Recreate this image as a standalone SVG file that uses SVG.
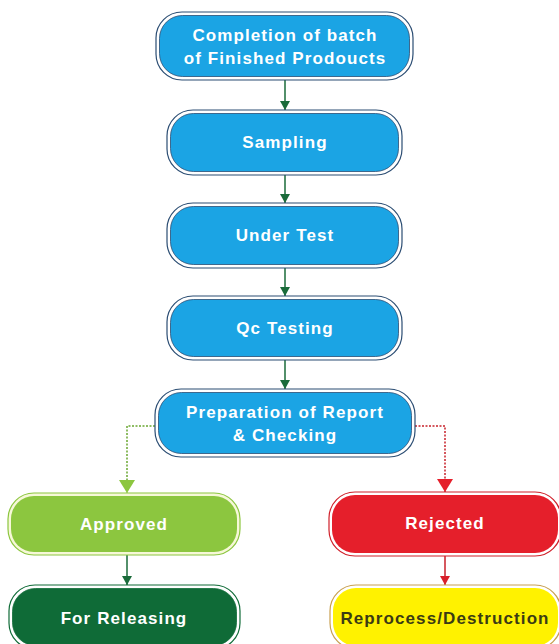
<svg xmlns="http://www.w3.org/2000/svg" width="559" height="644" viewBox="0 0 559 644">
<style>
  text { font-family: "Liberation Sans", Arial, sans-serif; font-weight: bold; font-size: 17px; letter-spacing: 1.1px; text-anchor: middle; dominant-baseline: central; fill: #ffffff; }
  .outer { fill: #ffffff; stroke-width: 1.2; }
  .blue .outer { stroke: #2b4d73; }
  .blue .inner { fill: #1ba4e4; stroke: #2b4d73; stroke-width: 0.8; }
  .lg .outer { stroke: #8cc63f; fill: #f6f8d8; }
  .lg .inner { fill: #8cc63f; }
  .dg .outer { stroke: #0f6b37; }
  .dg .inner { fill: #0f6b37; stroke: #0f6b37; stroke-width: 0.8; }
  .rd .outer { stroke: #d0202a; }
  .rd .inner { fill: #e51f2b; }
  .yl .outer { stroke: #c8a050; }
  .yl .inner { fill: #fff200; }
  .yl text { fill: #3b3b14; }
  .solid { fill: none; stroke: #1a6b3a; stroke-width: 1.5; }
  .solidr { fill: none; stroke: #c8202a; stroke-width: 1.5; }
  .dotg { fill: none; stroke: #6aa630; stroke-width: 1.5; stroke-dasharray: 2 1.5; }
  .dotr { fill: none; stroke: #c8202a; stroke-width: 1.5; stroke-dasharray: 2 1.5; }
</style>
<defs>
  <marker id="ag" markerUnits="userSpaceOnUse" markerWidth="9" markerHeight="10" refX="9" refY="5" orient="auto" viewBox="0 0 9 10">
    <path d="M0,0 L9,5 L0,10 Z" fill="#1a6b3a"/>
  </marker>
  <marker id="ar" markerUnits="userSpaceOnUse" markerWidth="9" markerHeight="10" refX="9" refY="5" orient="auto" viewBox="0 0 9 10">
    <path d="M0,0 L9,5 L0,10 Z" fill="#d8202a"/>
  </marker>
  <marker id="alg" markerUnits="userSpaceOnUse" markerWidth="13" markerHeight="16" refX="13" refY="8" orient="auto" viewBox="0 0 13 16">
    <path d="M0,0 L13,8 L0,16 Z" fill="#8cc63f"/>
  </marker>
  <marker id="alr" markerUnits="userSpaceOnUse" markerWidth="13" markerHeight="16" refX="13" refY="8" orient="auto" viewBox="0 0 13 16">
    <path d="M0,0 L13,8 L0,16 Z" fill="#e51f2b"/>
  </marker>
</defs>

<g id="connectors">
  <path class="solid" d="M285,80 V110" marker-end="url(#ag)"/>
  <path class="solid" d="M285,175 V203" marker-end="url(#ag)"/>
  <path class="solid" d="M285,268 V296" marker-end="url(#ag)"/>
  <path class="solid" d="M285,360 V389" marker-end="url(#ag)"/>
  <path class="dotg" d="M155,426 H127 V493" marker-end="url(#alg)"/>
  <path class="dotr" d="M415,426 H445 V492" marker-end="url(#alr)"/>
  <path class="solid" d="M127,555 V585" marker-end="url(#ag)"/>
  <path class="solidr" d="M445,556 V585" marker-end="url(#ar)"/>
</g>

<g id="n1" class="blue">
  <rect class="outer" x="156" y="12" width="257" height="68" rx="26"/>
  <rect class="inner" x="159.5" y="15.5" width="250" height="61" rx="23"/>
  <text x="285" y="35">Completion of batch</text>
  <text x="285" y="58">of Finished Prodoucts</text>
</g>
<g id="n2" class="blue">
  <rect class="outer" x="167" y="110" width="235" height="65" rx="26"/>
  <rect class="inner" x="170.5" y="113.5" width="228" height="58" rx="23"/>
  <text x="285" y="142">Sampling</text>
</g>
<g id="n3" class="blue">
  <rect class="outer" x="167" y="203" width="235" height="65" rx="26"/>
  <rect class="inner" x="170.5" y="206.5" width="228" height="58" rx="23"/>
  <text x="285" y="235">Under Test</text>
</g>
<g id="n4" class="blue">
  <rect class="outer" x="167" y="296" width="235" height="64" rx="26"/>
  <rect class="inner" x="170.5" y="299.5" width="228" height="57" rx="23"/>
  <text x="285" y="328">Qc Testing</text>
</g>
<g id="n5" class="blue">
  <rect class="outer" x="155" y="389" width="260" height="68" rx="26"/>
  <rect class="inner" x="158.5" y="392.5" width="253" height="61" rx="23"/>
  <text x="285" y="412">Preparation of Report</text>
  <text x="285" y="435">&amp; Checking</text>
</g>
<g id="n6" class="lg">
  <rect class="outer" x="8" y="493" width="232" height="62" rx="26"/>
  <rect class="inner" x="11" y="496" width="226" height="56" rx="23"/>
  <text x="124" y="524">Approved</text>
</g>
<g id="n7" class="dg">
  <rect class="outer" x="9" y="585" width="231" height="64" rx="26"/>
  <rect class="inner" x="12.5" y="588.5" width="224" height="57" rx="23"/>
  <text x="124" y="618">For Releasing</text>
</g>
<g id="n8" class="rd">
  <rect class="outer" x="329" y="492" width="232" height="64" rx="26"/>
  <rect class="inner" x="332" y="495" width="226" height="58" rx="23"/>
  <text x="445" y="523">Rejected</text>
</g>
<g id="n9" class="yl">
  <rect class="outer" x="330" y="585" width="231" height="64" rx="26"/>
  <rect class="inner" x="333" y="588" width="225" height="58" rx="23"/>
  <text x="445" y="618">Reprocess/Destruction</text>
</g>
</svg>
